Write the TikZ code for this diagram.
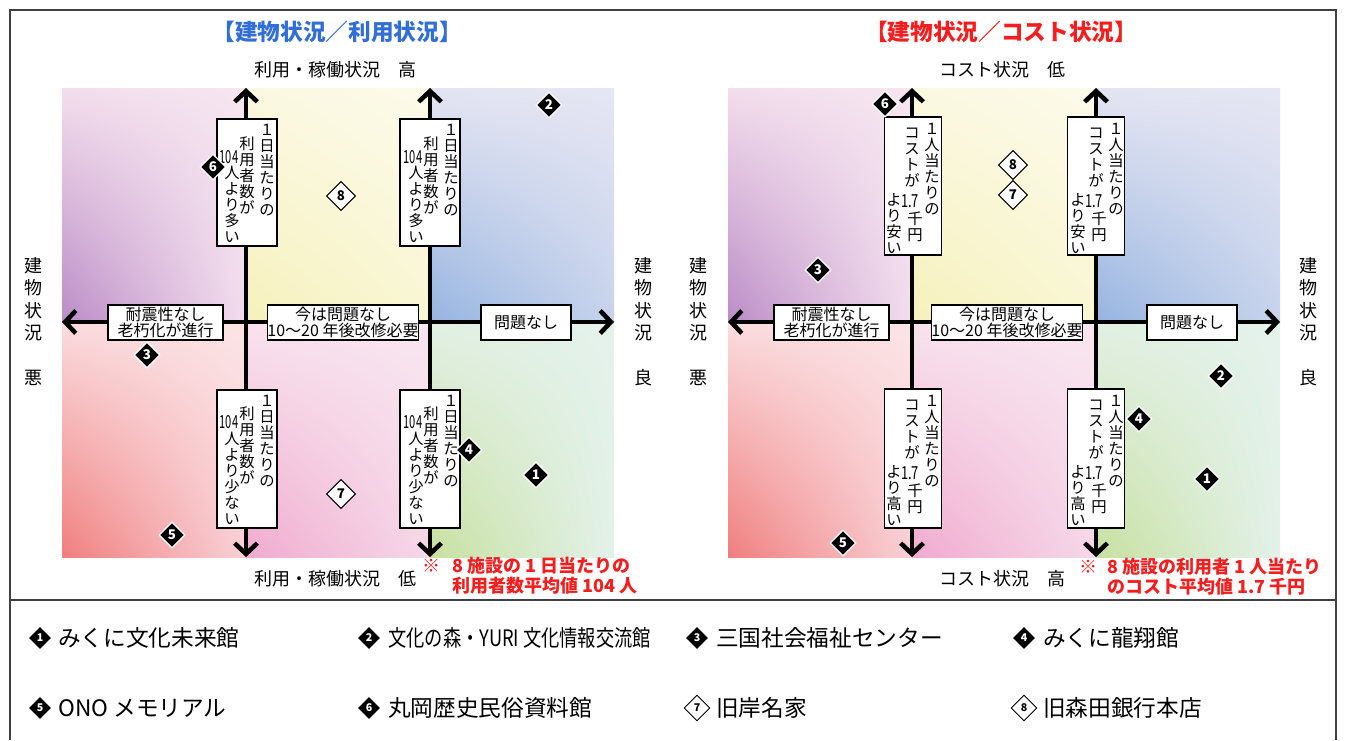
\documentclass[tikz,border=0pt]{standalone}
\usepackage{fontspec}
\usepackage{graphicx}
\setmainfont{Noto Sans CJK JP}
\usetikzlibrary{arrows.meta,shapes.geometric,shadings}
\definecolor{tblue}{RGB}{50,110,215}
\definecolor{tred}{RGB}{245,30,30}
\definecolor{framec}{RGB}{64,64,64}
% quadrant colours
\definecolor{tlUL}{RGB}{243,222,236}\definecolor{tlUR}{RGB}{246,230,241}\definecolor{tlLL}{RGB}{186,140,198}\definecolor{tlLR}{RGB}{242,221,236}
\definecolor{tmUL}{RGB}{251,248,226}\definecolor{tmUR}{RGB}{252,251,234}\definecolor{tmLL}{RGB}{246,241,188}\definecolor{tmLR}{RGB}{249,246,212}
\definecolor{trUL}{RGB}{229,229,242}\definecolor{trUR}{RGB}{230,230,243}\definecolor{trLL}{RGB}{150,180,224}\definecolor{trLR}{RGB}{199,211,235}
\definecolor{blUL}{RGB}{250,220,223}\definecolor{blUR}{RGB}{251,228,230}\definecolor{blLL}{RGB}{240,126,126}\definecolor{blLR}{RGB}{248,208,214}
\definecolor{bmUL}{RGB}{248,227,238}\definecolor{bmUR}{RGB}{248,230,240}\definecolor{bmLL}{RGB}{240,170,206}\definecolor{bmLR}{RGB}{245,216,232}
\definecolor{brUL}{RGB}{226,240,228}\definecolor{brUR}{RGB}{228,242,236}\definecolor{brLL}{RGB}{200,224,160}\definecolor{brLR}{RGB}{227,241,234}
\newcommand\quadbg[4]{%
  \shade[upper left=tlUL, upper right=tlUR, lower left=tlLL, lower right=tlLR] (#1,88) rectangle (#2,322);
  \shade[upper left=tmUL, upper right=tmUR, lower left=tmLL, lower right=tmLR] (#2,88) rectangle (#3,322);
  \shade[upper left=trUL, upper right=trUR, lower left=trLL, lower right=trLR] (#3,88) rectangle (#4,322);
  \shade[upper left=blUL, upper right=blUR, lower left=blLL, lower right=blLR] (#1,322) rectangle (#2,557);
  \shade[upper left=bmUL, upper right=bmUR, lower left=bmLL, lower right=bmLR] (#2,322) rectangle (#3,557);
  \shade[upper left=brUL, upper right=brUR, lower left=brLL, lower right=brLR] (#3,322) rectangle (#4,557);
}
\begin{document}
\begin{tikzpicture}[x=0.75pt,y=-0.75pt,
  every node/.style={inner sep=0pt},
  axisarrow/.style={line width=3.4pt, arrows={Straight Barb[length=8pt,width=17pt]-Straight Barb[length=8pt,width=17pt]}},
  vbox/.style={draw=black, fill=white, line width=0.9pt},
  hbox/.style={draw=black, fill=white, line width=0.9pt, minimum height=26.25pt, align=center, font=\fontsize{12}{12}\selectfont},
  vcol/.style={anchor=north, align=center, font=\fontsize{11.5}{12}\selectfont},
  htxt/.style={font=\fontsize{13.5}{13.5}\selectfont},
  fdia/.style={diamond, aspect=1, fill=black, draw=white, line width=1pt, minimum size=19.5pt, text=white, font=\bfseries\fontsize{10}{10}\selectfont},
  hdia/.style={diamond, aspect=1, fill=white, draw=black, line width=0.8pt, minimum size=22pt, font=\bfseries\fontsize{10}{10}\selectfont},
  lfdia/.style={diamond, aspect=1, fill=black, minimum size=16.5pt, text=white, font=\bfseries\fontsize{8}{8}\selectfont},
  lhdia/.style={diamond, aspect=1, fill=white, draw=black, line width=0.7pt, minimum size=19.5pt, font=\bfseries\fontsize{8}{8}\selectfont},
  title/.style={font=\bfseries\fontsize{17}{17}\selectfont},
  axlab/.style={font=\fontsize{13.5}{13.5}\selectfont},
  sidelab/.style={anchor=north, align=center, font=\fontsize{13.5}{16.9}\selectfont},
  note/.style={text=tred, font=\bfseries\fontsize{13.5}{13.5}\selectfont},
  legtxt/.style={anchor=west, font=\fontsize{17}{17}\selectfont}
]
\useasboundingbox (0,0) rectangle (1346,740);
\fill[white] (0,0) rectangle (1346,740);

% frame
\coordinate (fTL) at (10,10); \coordinate (fTR) at (1336,10);
\coordinate (fBL) at (10,740); \coordinate (fBR) at (1336,740);
\coordinate (sL) at (10,600); \coordinate (sR) at (1336,600);
\draw[framec, line width=1.2pt] (fBL) -- (fTL) -- (fTR) -- (fBR);
\draw[framec, line width=1.6pt] (sL) -- (sR);

% ---------------- backgrounds
\quadbg{62}{246}{430}{614}
\quadbg{728}{912}{1096}{1280}

% ---------------- titles
\node[title, text=tblue] (tL) at (337,32) {【建物状況／利用状況】};
\node[title, text=tred] (tR) at (1001,32) {【建物状況／コスト状況】};
\node[axlab] (aLt) at (335,70) {利用・稼働状況　高};
\node[axlab] (aLb) at (335,579) {利用・稼働状況　低};
\node[axlab] (aRt) at (1002,70) {コスト状況　低};
\node[axlab] (aRb) at (1002,579) {コスト状況　高};
\node[sidelab] (sL1) at (33,257) {建\\物\\状\\況\\[16.9pt]悪};
\node[sidelab] (sL2) at (643,257) {建\\物\\状\\況\\[16.9pt]良};
\node[sidelab] (sR1) at (698,257) {建\\物\\状\\況\\[16.9pt]悪};
\node[sidelab] (sR2) at (1308,257) {建\\物\\状\\況\\[16.9pt]良};

% ---------------- axes left
\coordinate (Lw) at (62,322); \coordinate (Le) at (614,322);
\coordinate (L1t) at (246,88); \coordinate (L1b) at (246,557);
\coordinate (L2t) at (430,88); \coordinate (L2b) at (430,557);
\draw[axisarrow] (Lw) -- (Le);
\draw[axisarrow] (L1b) -- (L1t);
\draw[axisarrow] (L2b) -- (L2t);
% ---------------- axes right
\coordinate (Rw) at (728,322); \coordinate (Re) at (1280,322);
\coordinate (R1t) at (912,88); \coordinate (R1b) at (912,557);
\coordinate (R2t) at (1096,88); \coordinate (R2b) at (1096,557);
\draw[axisarrow] (Rw) -- (Re);
\draw[axisarrow] (R1b) -- (R1t);
\draw[axisarrow] (R2b) -- (R2t);

% ---------------- horizontal boxes
\node[hbox, minimum width=86.25pt] (Lh1) at (165.5,322.5) {耐震性なし\\老朽化が進行};
\node[hbox, minimum width=111pt] (Lh2) at (343,322.5) {今は問題なし\\10～20 年後改修必要};
\node[hbox, minimum width=67.5pt] (Lh3) at (526,322.5) {問題なし};
\node[hbox, minimum width=86.25pt] (Rh1) at (831.5,322.5) {耐震性なし\\老朽化が進行};
\node[hbox, minimum width=111pt] (Rh2) at (1007,322.5) {今は問題なし\\10～20 年後改修必要};
\node[hbox, minimum width=67.5pt] (Rh3) at (1192,322.5) {問題なし};

% ---------------- vertical boxes left chart
\node[vbox, minimum width=45pt, minimum height=95.25pt] (Lv1) at (247,182.5) {};
\node[vbox, minimum width=45pt, minimum height=95.25pt] (Lv2) at (430,182.5) {};
\node[vbox, minimum width=45pt, minimum height=103.5pt] (Lv3) at (247,459) {};
\node[vbox, minimum width=45pt, minimum height=103.5pt] (Lv4) at (430,459) {};
% texts
\node[vcol] (Lv1a) at (267,124) {１\\日\\当\\た\\り\\の};
\node[vcol] (Lv1b) at (247,136) {利\\用\\者\\数\\が};
\node[htxt] (Lv1c) at (229,157) {\scalebox{0.62}[1]{104}};
\node[vcol] (Lv1d) at (232,166) {人\\よ\\り\\多\\い};
\node[vcol] (Lv2a) at (451,124) {１\\日\\当\\た\\り\\の};
\node[vcol] (Lv2b) at (431,136) {利\\用\\者\\数\\が};
\node[htxt] (Lv2c) at (413,157) {\scalebox{0.62}[1]{104}};
\node[vcol] (Lv2d) at (416,166) {人\\よ\\り\\多\\い};
\node[vcol] (Lv3a) at (267,395) {１\\日\\当\\た\\り\\の};
\node[vcol] (Lv3b) at (247,406) {利\\用\\者\\数\\が};
\node[htxt] (Lv3c) at (229,422) {\scalebox{0.62}[1]{104}};
\node[vcol] (Lv3d) at (232,432) {人\\よ\\り\\少\\な\\い};
\node[vcol] (Lv4a) at (451,395) {１\\日\\当\\た\\り\\の};
\node[vcol] (Lv4b) at (431,406) {利\\用\\者\\数\\が};
\node[htxt] (Lv4c) at (413,422) {\scalebox{0.62}[1]{104}};
\node[vcol] (Lv4d) at (416,432) {人\\よ\\り\\少\\な\\い};

% ---------------- vertical boxes right chart
\node[vbox, minimum width=43pt, minimum height=103.5pt] (Rv1) at (913,186) {};
\node[vbox, minimum width=43pt, minimum height=103.5pt] (Rv2) at (1096,186) {};
\node[vbox, minimum width=43pt, minimum height=104.25pt] (Rv3) at (913,458.5) {};
\node[vbox, minimum width=43pt, minimum height=104.25pt] (Rv4) at (1096,458.5) {};
\node[vcol] (Rv1a) at (932,123) {１\\人\\当\\た\\り\\の};
\node[vcol] (Rv1b) at (912,128) {コ\\ス\\ト\\が};
\node[htxt] (Rv1c) at (910,201) {\scalebox{0.72}[1]{1.7}};
\node[vcol] (Rv1d) at (915,212) {千\\円};
\node[vcol] (Rv1e) at (894,193) {よ\\り\\安\\い};
\node[vcol] (Rv2a) at (1116,123) {１\\人\\当\\た\\り\\の};
\node[vcol] (Rv2b) at (1096,128) {コ\\ス\\ト\\が};
\node[htxt] (Rv2c) at (1094,201) {\scalebox{0.72}[1]{1.7}};
\node[vcol] (Rv2d) at (1099,212) {千\\円};
\node[vcol] (Rv2e) at (1078,193) {よ\\り\\安\\い};
\node[vcol] (Rv3a) at (932,395) {１\\人\\当\\た\\り\\の};
\node[vcol] (Rv3b) at (912,400) {コ\\ス\\ト\\が};
\node[htxt] (Rv3c) at (910,473) {\scalebox{0.72}[1]{1.7}};
\node[vcol] (Rv3d) at (915,484) {千\\円};
\node[vcol] (Rv3e) at (894,465) {よ\\り\\高\\い};
\node[vcol] (Rv4a) at (1116,395) {１\\人\\当\\た\\り\\の};
\node[vcol] (Rv4b) at (1096,400) {コ\\ス\\ト\\が};
\node[htxt] (Rv4c) at (1094,473) {\scalebox{0.72}[1]{1.7}};
\node[vcol] (Rv4d) at (1099,484) {千\\円};
\node[vcol] (Rv4e) at (1078,465) {よ\\り\\高\\い};

% ---------------- markers left chart
\node[fdia] (Ld1) at (536,475) {1};
\node[fdia] (Ld2) at (549,105) {2};
\node[fdia] (Ld3) at (147,355) {3};
\node[fdia] (Ld4) at (469,450) {4};
\node[fdia] (Ld5) at (172,535) {5};
\node[fdia] (Ld6) at (213,167) {6};
\node[hdia] (Ld7) at (341,494) {7};
\node[hdia] (Ld8) at (341,196) {8};
% ---------------- markers right chart
\node[fdia] (Rd1) at (1207,479) {1};
\node[fdia] (Rd2) at (1221,376) {2};
\node[fdia] (Rd3) at (818,270) {3};
\node[fdia] (Rd4) at (1139,419) {4};
\node[fdia] (Rd5) at (843,543) {5};
\node[fdia] (Rd6) at (885,104) {6};
\node[hdia] (Rd8) at (1013,165) {8};
\node[hdia] (Rd7) at (1013,195) {7};

% ---------------- notes
\node[note] (nL0) at (431,566) {※};
\node[note, anchor=west] (nL1) at (452,566) {8 施設の 1 日当たりの};
\node[note, anchor=west] (nL2) at (452,586) {利用者数平均値 104 人};
\node[note] (nR0) at (1088,567) {※};
\node[note, anchor=west] (nR1) at (1107,567) {8 施設の利用者 1 人当たり};
\node[note, anchor=west] (nR2) at (1107,587) {のコスト平均値 1.7 千円};

% ---------------- legend
\node[lfdia] (g1) at (40,638) {1};
\node[legtxt] (g1t) at (58,638) {みくに文化未来館};
\node[lfdia] (g2) at (369,638) {2};
\node[legtxt] (g2t) at (388,638) {\resizebox{197pt}{\height}{文化の森・YURI 文化情報交流館}};
\node[lfdia] (g3) at (697,638) {3};
\node[legtxt] (g3t) at (716,638) {三国社会福祉センター};
\node[lfdia] (g4) at (1024,638) {4};
\node[legtxt] (g4t) at (1043,638) {みくに龍翔館};
\node[lfdia] (g5) at (40,708) {5};
\node[legtxt] (g5t) at (58,708) {ONO メモリアル};
\node[lfdia] (g6) at (369,708) {6};
\node[legtxt] (g6t) at (388,708) {丸岡歴史民俗資料館};
\node[lhdia] (g7) at (697,708) {7};
\node[legtxt] (g7t) at (716,708) {旧岸名家};
\node[lhdia] (g8) at (1024,708) {8};
\node[legtxt] (g8t) at (1043,708) {旧森田銀行本店};
\end{tikzpicture}
\end{document}
